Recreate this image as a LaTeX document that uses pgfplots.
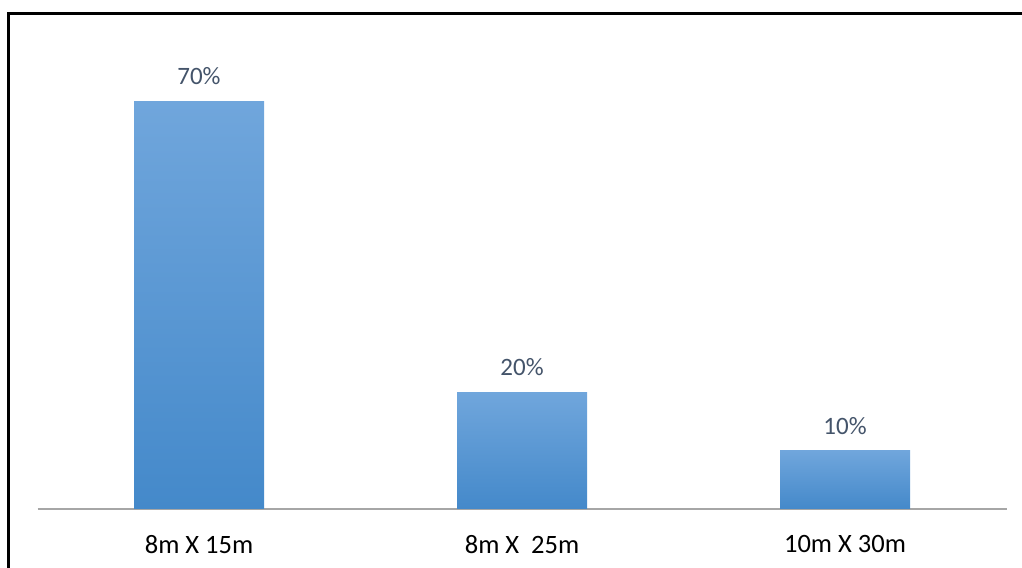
\documentclass[border=0pt]{standalone}
\usepackage{pgfplots}
\pgfplotsset{compat=1.18}
\usepackage{fontspec}
\setmainfont{Carlito}
\definecolor{barTop}{RGB}{112,166,220}
\definecolor{barBot}{RGB}{68,137,202}
\definecolor{lblCol}{RGB}{68,84,106}
\definecolor{baseCol}{RGB}{166,166,166}
\begin{document}
\begin{tikzpicture}[x=1bp,y=1bp]
\path[use as bounding box] (0,0) rectangle (1022,568);
\begin{scope}
\clip (0,0) rectangle (1022,568);
\draw[line width=2.2bp] (8.5,-20) -- (8.5,554.5) -- (1040,554.5);
\end{scope}
\begin{axis}[
  at={(37.5bp,59bp)}, anchor=south west,
  scale only axis, width=969bp, height=466bp,
  xmin=-0.5, xmax=2.5, ymin=0, ymax=80,
  axis x line*=bottom, axis y line=none,
  x axis line style={draw=baseCol, line width=1.6bp, -},
  xtick={0,1,2}, xticklabels={8m X 15m, 8m X\ \ 25m, 10m X 30m},
  major tick length=0pt,
  xticklabel style={font=\fontsize{26.5bp}{30bp}\selectfont, text=black, yshift=-23bp},
  /pgf/number format/assume math mode=true,
  ybar, bar width=130bp, bar shift=0pt,
  nodes near coords={\pgfmathprintnumber{\pgfplotspointmeta}\%},
  every node near coord/.append style={font=\fontsize{25bp}{29bp}\selectfont, text=lblCol, yshift=13bp},
  clip=false,
]
% one plot per bar so that each bar carries its own gradient
\addplot[draw=none, top color=barTop, bottom color=barBot] coordinates {(0,70)};
\addplot[draw=none, top color=barTop, bottom color=barBot] coordinates {(1,20)};
\addplot[draw=none, top color=barTop, bottom color=barBot] coordinates {(2,10)};
\end{axis}
\end{tikzpicture}
\end{document}
